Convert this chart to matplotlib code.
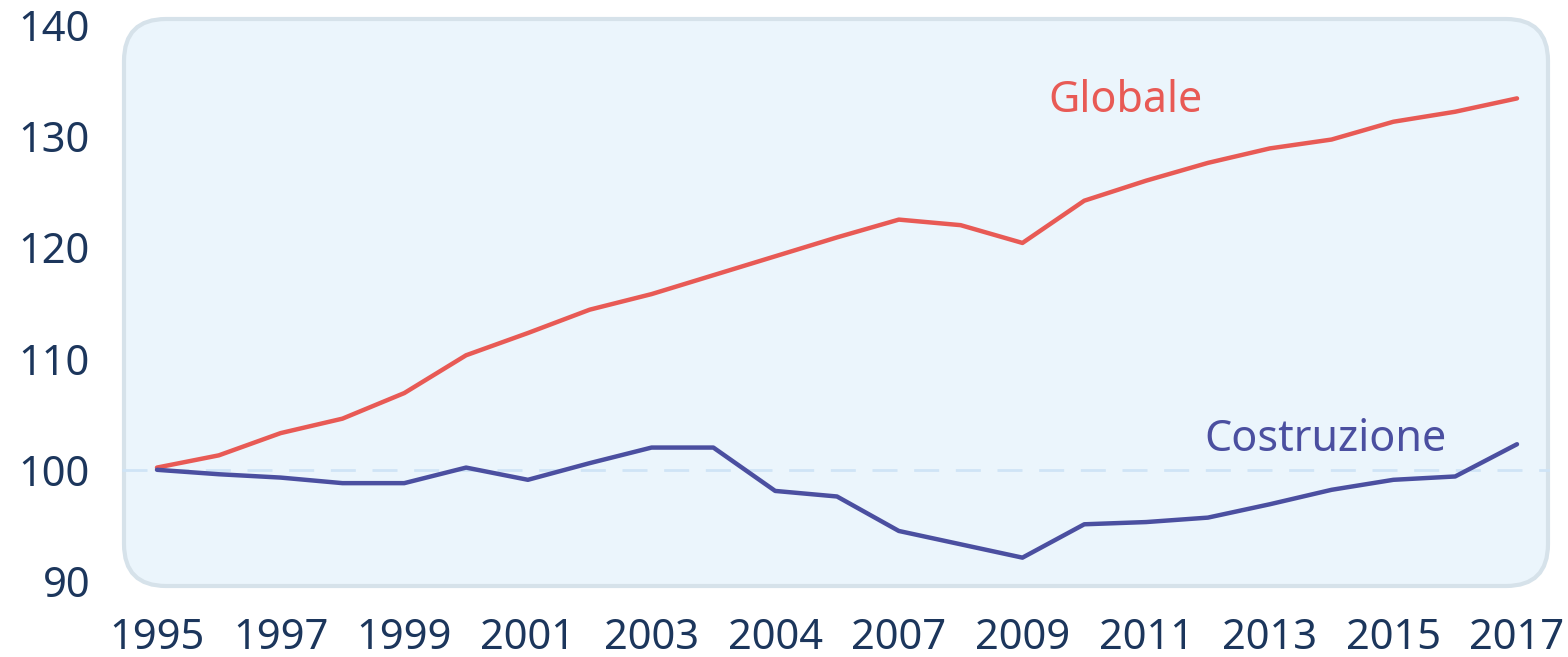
import matplotlib
matplotlib.use("Agg")
import matplotlib.pyplot as plt
from matplotlib.patches import FancyBboxPatch

# ---- data ----
years = list(range(1995, 2018))
globale = [100.2, 101.3, 103.3, 104.6, 106.9, 110.3, 112.3, 114.4, 115.8, 117.5,
           119.2, 120.9, 122.5, 122.0, 120.4, 124.2, 126.0, 127.6, 128.9, 129.7,
           131.3, 132.2, 133.4]
costruzione = [100.0, 99.6, 99.3, 98.8, 98.8, 100.2, 99.1, 100.6, 102.0, 102.0,
               98.1, 97.6, 94.5, 93.3, 92.1, 95.1, 95.3, 95.7, 96.9, 98.2,
               99.1, 99.4, 102.3]
xtick_pos = [1995, 1997, 1999, 2001, 2003, 2005, 2007, 2009, 2011, 2013, 2015, 2017]
xtick_labels = ["1995", "1997", "1999", "2001", "2003", "2004", "2007", "2009",
                "2011", "2013", "2015", "2017"]
yticks = [90, 100, 110, 120, 130, 140]
series_names = ["Globale", "Costruzione"]

RED = "#E85A55"
BLUE = "#4B4FA0"
NAVY = "#1C365C"

W, H, DPI = 1568, 657, 100
fig = plt.figure(figsize=(W / DPI, H / DPI), dpi=DPI)
plt.rcParams['font.family'] = ['Noto Sans', 'DejaVu Sans']

# panel in pixel coordinates
pl, pr, pt, pb = 122, 1550, 17, 588
panel = FancyBboxPatch(((pl + 2) / DPI, (H - pb + 2) / DPI),
                       (pr - pl - 4) / DPI, (pb - pt - 4) / DPI,
                       boxstyle="round,pad=0,rounding_size=0.42",
                       transform=fig.dpi_scale_trans,
                       facecolor="#EBF5FC", edgecolor="#D6E2EA", linewidth=3,
                       zorder=-10)
fig.patches.append(panel)

ax = fig.add_axes([pl / W, (H - pb) / H, (pr - pl) / W, (pb - pt) / H])
ax.set_zorder(5)
ax.patch.set_alpha(0)
for s in ax.spines.values():
    s.set_visible(False)

# mapping: 1995 -> px 157, 2017 -> px 1517 ; 140 -> px 25, 90 -> px 581
ppx = (1517 - 157) / 22.0
ax.set_xlim(1995 - (157 - pl) / ppx, 2017 + (pr - 1517) / ppx)
ppy = (581 - 25) / 50.0
ax.set_ylim(90 - (pb - 581) / ppy, 140 + (25 - pt) / ppy)

ax.axhline(100, color="#CFE4F6", lw=2, dashes=(9, 6), zorder=1)
ax.plot(years, globale, color=RED, lw=3.2, solid_capstyle="round",
        solid_joinstyle="round", zorder=3)
ax.plot(years, costruzione, color=BLUE, lw=3.2, solid_capstyle="round",
        solid_joinstyle="round", zorder=3)

ax.text(2009.42, 132.15, series_names[0], color=RED, fontsize=31,
        fontweight="light", va="baseline", ha="left")
ax.text(2011.95, 101.7, series_names[1], color=BLUE, fontsize=31,
        fontweight="light", va="baseline", ha="left")

ax.set_xticks(xtick_pos)
ax.set_xticklabels(xtick_labels)
ax.set_yticks(yticks)
ax.set_yticklabels([str(v) for v in yticks])
ax.tick_params(axis="both", length=0, labelsize=30, labelcolor=NAVY)
for lab in ax.get_xticklabels() + ax.get_yticklabels():
    lab.set_fontweight("medium")
ax.tick_params(axis="y", pad=23)
ax.tick_params(axis="x", pad=21)

fig.savefig("out.png", dpi=DPI, facecolor="white")
